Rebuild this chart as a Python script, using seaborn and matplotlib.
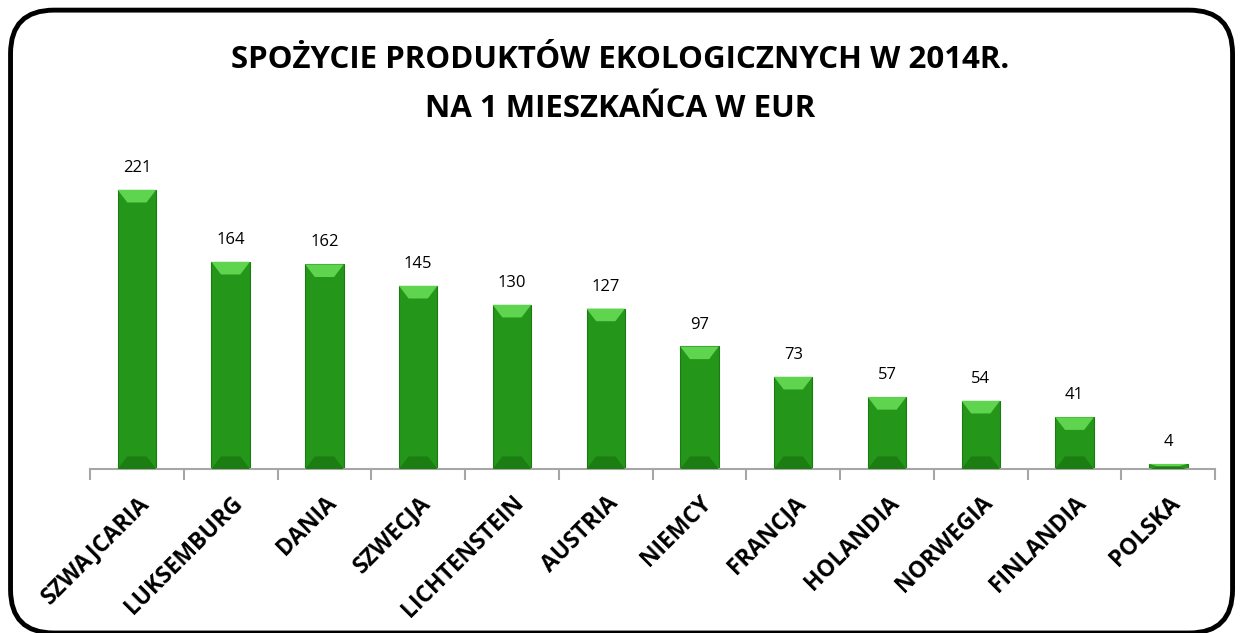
import matplotlib.pyplot as plt
import pandas as pd
import numpy as np
import seaborn as sns
from matplotlib.patches import FancyBboxPatch, Polygon

countries = ['SZWAJCARIA', 'LUKSEMBURG', 'DANIA', 'SZWECJA', 'LICHTENSTEIN', 'AUSTRIA',
             'NIEMCY', 'FRANCJA', 'HOLANDIA', 'NORWEGIA', 'FINLANDIA', 'POLSKA']
values = [221, 164, 162, 145, 130, 127, 97, 73, 57, 54, 41, 4]

df = pd.DataFrame({'kraj': countries, 'eur': values})

sns.set_style('white')
plt.rcParams['font.family'] = ['Open Sans', 'DejaVu Sans']

fig = plt.figure(figsize=(12.4, 6.33), dpi=100)
ax = fig.add_axes([0.0726, 0.259, 0.9074, 0.499])

sns.barplot(data=df, x='kraj', y='eur', color='#24961a', width=0.41,
            saturation=1, ax=ax, edgecolor='#1c7a13', linewidth=0.8)

# simple bevel look on top/bottom of each bar
for p in ax.patches:
    x0, w, h = p.get_x(), p.get_width(), p.get_height()
    cap = min(h * 0.5, 10)
    top = Polygon([[x0, h], [x0 + w, h], [x0 + w * 0.75, h - cap], [x0 + w * 0.25, h - cap]],
                  closed=True, facecolor='#5fd44f', edgecolor='none', zorder=3)
    bot = Polygon([[x0, 0], [x0 + w, 0], [x0 + w * 0.75, cap], [x0 + w * 0.25, cap]],
                  closed=True, facecolor='#1b7d12', edgecolor='none', zorder=3)
    ax.add_patch(top)
    ax.add_patch(bot)

ax.bar_label(ax.containers[0], labels=[str(v) for v in values], padding=10,
             fontsize=12, color='black')

ax.set_ylim(0, 250)
ax.set_xlim(-0.5, len(countries) - 0.5)
ax.set_xlabel('')
ax.set_ylabel('')
ax.set_yticks([])
for s in ['top', 'right', 'left']:
    ax.spines[s].set_visible(False)
ax.spines['bottom'].set_color('#a6a6a6')
ax.spines['bottom'].set_linewidth(1.5)

# tick marks at category boundaries (major), labels at centres (minor)
ax.set_xticks(np.arange(-0.5, len(countries)))
ax.set_xticklabels([''] * (len(countries) + 1))
ax.set_xticks(range(len(countries)), minor=True)
ax.set_xticklabels(countries, minor=True, rotation=45, ha='right', rotation_mode='anchor',
                   fontsize=16.5, fontweight='bold', color='black')
ax.tick_params(axis='x', which='major', bottom=True, length=8, width=1.5,
               color='#a6a6a6', direction='out')
ax.tick_params(axis='x', which='minor', bottom=True, length=0, pad=16)

fig.text(0.5, 0.906, 'SPOŻYCIE PRODUKTÓW EKOLOGICZNYCH W 2014R.', ha='center', va='center',
         fontsize=22.5, fontweight='bold', color='black')
fig.text(0.5, 0.828, 'NA 1 MIESZKAŃCA W EUR', ha='center', va='center',
         fontsize=22.5, fontweight='bold', color='black')

frame = FancyBboxPatch((0.0085, 0.0), 0.9855, 0.984, boxstyle='round,pad=0,rounding_size=0.035',
                       transform=fig.transFigure, facecolor='none', edgecolor='black',
                       linewidth=3.5, mutation_aspect=1240 / 633)
fig.patches.append(frame)

fig.savefig('out.png', dpi=100)
